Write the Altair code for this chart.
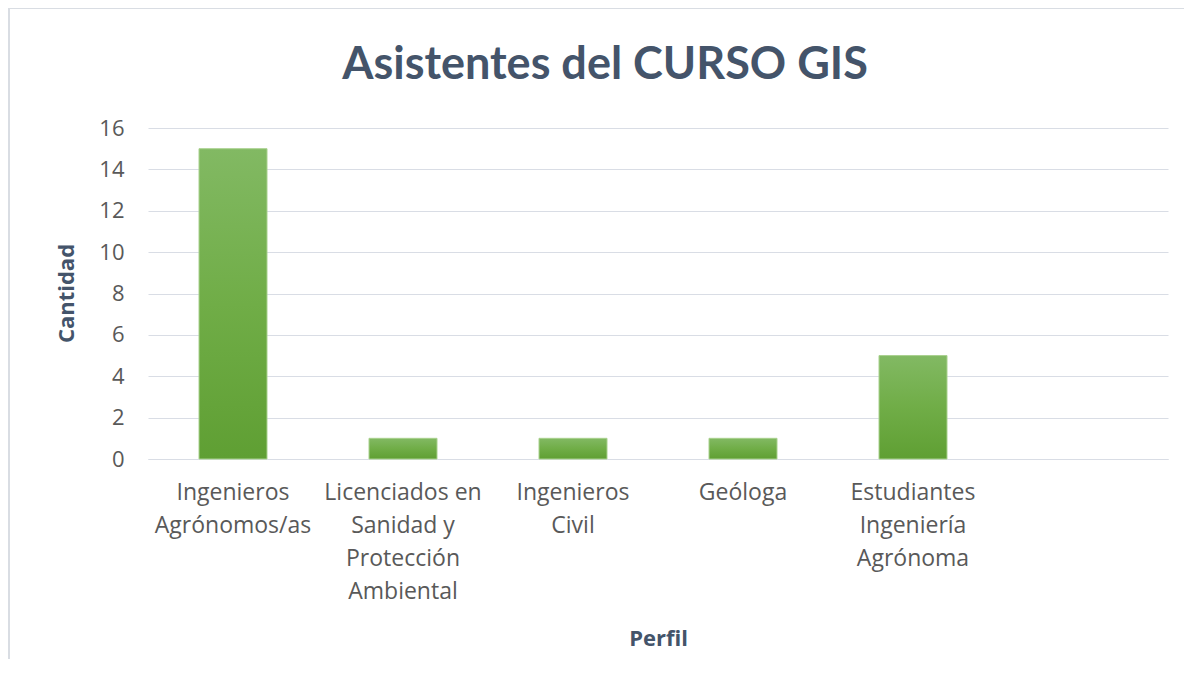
import altair as alt
import pandas as pd

categories = [
    "Ingenieros|Agrónomos/as",
    "Licenciados en|Sanidad y|Protección|Ambiental",
    "Ingenieros|Civil",
    "Geóloga",
    "Estudiantes|Ingeniería|Agrónoma",
]
values = [15, 1, 1, 1, 5]
domain = categories + [" "]

df = pd.DataFrame({"Perfil": categories, "Cantidad": values})

text_color = "#595959"
grid_color = "#d9dde5"

bars = alt.Chart(df).mark_bar(
    color=alt.Gradient(
        gradient="linear",
        stops=[
            alt.GradientStop(color="#82b963", offset=0),
            alt.GradientStop(color="#70ad47", offset=0.5),
            alt.GradientStop(color="#5f9f33", offset=1),
        ],
        x1=0, x2=0, y1=0, y2=1,
    ),
    stroke="#a9d18e",
    strokeWidth=1,
).encode(
    x=alt.X(
        "Perfil:N",
        sort=domain,
        scale=alt.Scale(domain=domain, paddingInner=0.6, paddingOuter=0.3),
        axis=alt.Axis(
            title="Perfil",
            labelAngle=0,
            labelExpr="split(datum.label, '|')",
            labelFont="Open Sans",
            labelFontSize=23,
            labelColor=text_color,
            labelLineHeight=33,
            labelPadding=22,
            labelBaseline="top",
            ticks=False,
            domain=True,
            domainColor=grid_color,
            titleFont="Open Sans",
            titleFontSize=22,
            titleFontWeight="bold",
            titleColor="#44546a",
            titleY=186,
            titleBaseline="alphabetic",
        ),
    ),
    y=alt.Y(
        "Cantidad:Q",
        scale=alt.Scale(domain=[0, 16], nice=False),
        axis=alt.Axis(
            title="Cantidad",
            values=[0, 2, 4, 6, 8, 10, 12, 14, 16],
            labelFont="Open Sans",
            labelFontSize=22,
            labelColor=text_color,
            labelPadding=24,
            ticks=False,
            domain=False,
            grid=True,
            gridColor=grid_color,
            gridWidth=1,
            titleFont="Open Sans",
            titleFontSize=22,
            titleFontWeight="bold",
            titleColor="#44546a",
            titleAngle=270,
            titleX=-82,
            titleY=165,
            titleAlign="center",
            titleBaseline="middle",
        ),
    ),
)

border_left = alt.Chart(df).mark_rule(color="#d9dde3", strokeWidth=2, clip=False).encode(
    x=alt.value(-139), y=alt.value(-120), y2=alt.value(540)
)
border_top = alt.Chart(df).mark_rule(color="#d9dde3", strokeWidth=2, clip=False).encode(
    x=alt.value(-139), x2=alt.value(1040), y=alt.value(-120)
)

chart = alt.layer(border_left, border_top, bars).properties(
    width=1020,
    height=331,
    autosize=alt.AutoSizeParams(type="none"),
    padding={"left": 140, "top": 120, "right": 16, "bottom": 200},
    title=alt.TitleParams(
        "Asistentes del CURSO GIS",
        font="Lato",
        fontSize=45,
        fontWeight="bold",
        color="#44546a",
        anchor="middle",
        dx=-53,
        dy=85,
    ),
).configure_view(stroke=None)

chart.save("out.html", embed_options={"renderer": "svg", "actions": False})
